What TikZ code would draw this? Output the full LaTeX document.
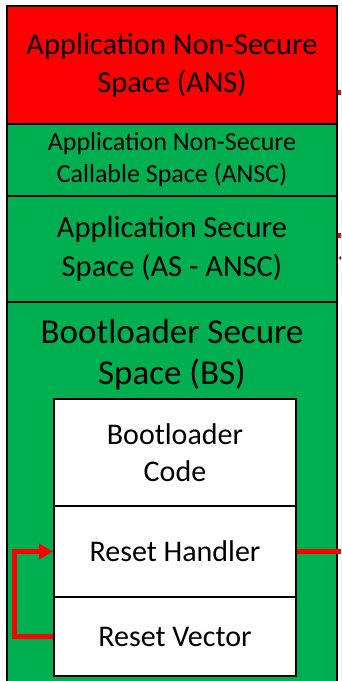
\documentclass[tikz,border=0pt]{standalone}
\usepackage{fontspec}
\setmainfont{Carlito}
\usetikzlibrary{arrows.meta}
\definecolor{ansred}{HTML}{FF0000}
\definecolor{secgreen}{HTML}{00B050}
\begin{document}
\begin{tikzpicture}[x=1pt,y=-1pt,
  region/.style={draw=black,line width=2pt,inner sep=0pt,align=center,minimum width=330pt},
  inner/.style={draw=black,line width=2pt,fill=white,inner sep=0pt,align=center,minimum width=242pt,font=\fontsize{30}{37}\selectfont},
  redline/.style={draw=ansred,line width=5pt}]
\useasboundingbox (0,0) rectangle (341,681);
\fill[white] (0,0) rectangle (341,681);
% Bootloader secure space (extends past the bottom)
\fill[secgreen] (7,302) rectangle (337,681);
\node[inner sep=0pt,align=center,font=\fontsize{35}{41}\selectfont] (bs) at (172,355) {Bootloader Secure\\Space (BS)};
\draw[line width=2pt] (7,681) -- (7,302) -- (337,302) -- (337,681);
% upper regions
\node[region,fill=ansred,minimum height=119pt,font=\fontsize{30.5}{38}\selectfont] (ans) at (172,65.5) {Application Non-Secure\\Space (ANS)};
\node[region,fill=secgreen,minimum height=72pt,font=\fontsize{26}{32}\selectfont] (ansc) at (172,160) {Application Non-Secure\\Callable Space (ANSC)};
\node[region,fill=secgreen,minimum height=106pt,font=\fontsize{30.5}{39}\selectfont] (as) at (172,249) {Application Secure\\Space (AS - ANSC)};
% inner boxes
\node[inner,minimum height=107pt] (bc) at (175,452.5) {Bootloader\\Code};
\node[inner,minimum height=91pt] (rh) at (175,551.5) {Reset Handler};
\node[inner,minimum height=79pt] (rv) at (175,636.5) {Reset Vector};
% connectors
\coordinate (loop) at (14.5,0);
\coordinate (edge) at (341,0);
\draw[redline,-{Triangle[length=14pt,width=15pt]}] (rv.west) -- (rv.west -| loop) |- (rh.west);
\draw[redline] (rh.east) -- (rh.east -| edge);
\coordinate (s1) at (338,92.5);
\coordinate (s2) at (338,235);
\draw[redline] (s1) -- (s1 -| edge);
\draw[redline] (s2) -- (s2 -| edge);
\fill[ansred] (338.5,258) -- (341,256) -- (341,260) -- cycle;
\end{tikzpicture}
\end{document}
